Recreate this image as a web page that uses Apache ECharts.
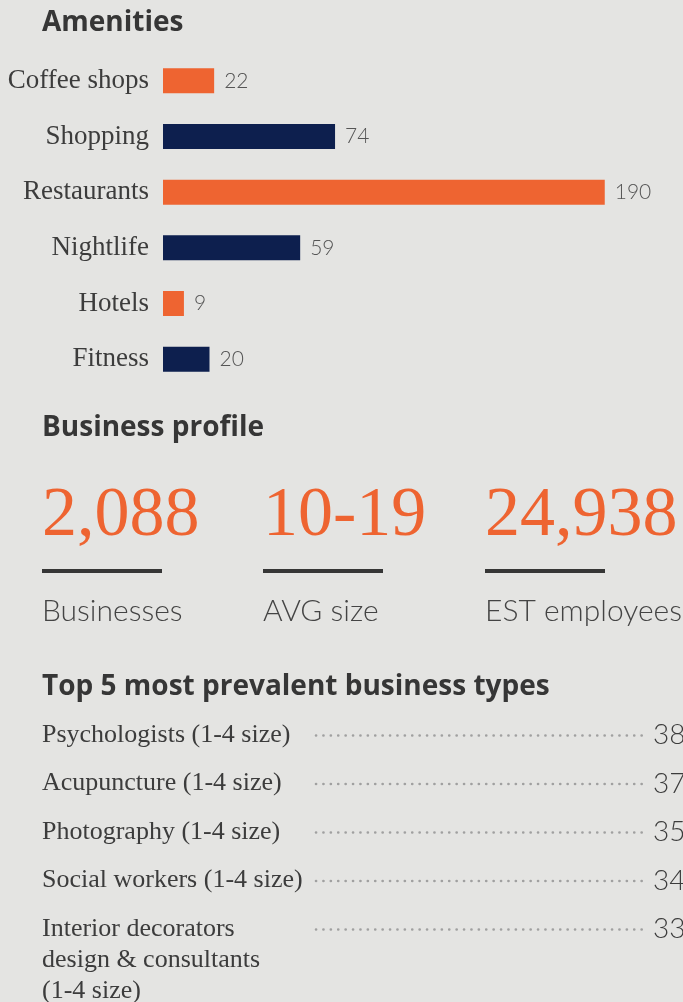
<!DOCTYPE html>
<html>
<head>
<meta charset="utf-8">
<script src="https://cdn.jsdelivr.net/npm/echarts@6/dist/echarts.min.js"></script>
<style>
html, body { margin: 0; padding: 0; background: #e4e4e2; }
#main { width: 683px; height: 1002px; }
</style>
</head>
<body>
<div id="main"></div>
<script>
"use strict";
var amenities = ['Coffee shops', 'Shopping', 'Restaurants', 'Nightlife', 'Hotels', 'Fitness'];
var amenityCounts = [22, 74, 190, 59, 9, 20];
var statValues = ['2,088', '10-19', '24,938'];
var statLabels = ['Businesses', 'AVG size', 'EST employees'];
var topTypes = [
    'Psychologists (1-4 size)',
    'Acupuncture (1-4 size)',
    'Photography (1-4 size)',
    'Social workers (1-4 size)',
    'Interior decorators\ndesign & consultants\n(1-4 size)'
];
var topCounts = [38, 37, 35, 34, 33];

var ORANGE = '#ee6431', NAVY = '#0d1f4e', INK = '#363636';
var SERIF = '"Liberation Serif", "DejaVu Serif", serif';
var SANS = 'Lato, "Noto Sans", sans-serif';
var HEAD = '"Open Sans", "Noto Sans", sans-serif';

var chartDom = document.getElementById('main');
var myChart = echarts.init(chartDom, null, { renderer: 'canvas' });

var graphics = [];
function heading(txt, y) {
    graphics.push({
        type: 'text', x: 42, y: y,
        style: { text: txt, font: 'bold 28px ' + HEAD, fill: INK, textVerticalAlign: 'middle' }
    });
}
heading('Amenities', 23);
heading('Business profile', 428);
heading('Top 5 most prevalent business types', 687);

// business profile figures
var statX = [42, 263, 485];
statValues.forEach(function (v, i) {
    graphics.push({
        type: 'text', x: statX[i], y: 517,
        style: { text: v, font: '70px ' + SERIF, fill: ORANGE, textVerticalAlign: 'middle' }
    });
    graphics.push({
        type: 'rect', shape: { x: statX[i], y: 569, width: 120, height: 4 },
        style: { fill: INK }
    });
    graphics.push({
        type: 'text', x: statX[i], y: 611,
        style: { text: statLabels[i], font: '300 30px ' + SANS, fill: '#444', textVerticalAlign: 'middle' }
    });
});

// top 5 list
topTypes.forEach(function (t, i) {
    var y = 735 + i * 48.5;
    graphics.push({
        type: 'text', x: 42, y: y - 15.5,
        style: { text: t, font: '26px ' + SERIF, fill: '#3c3c3c', lineHeight: 31, textVerticalAlign: 'top' }
    });
    graphics.push({
        type: 'line', shape: { x1: 316, y1: y + 0.5, x2: 642, y2: y + 0.5 },
        style: { stroke: '#a0a0a0', lineWidth: 2.6, lineCap: 'round', lineDash: [0.1, 7.3] }
    });
    graphics.push({
        type: 'text', x: 653, y: y,
        style: { text: String(topCounts[i]), font: '300 28px ' + SANS, fill: '#3c3c3c', textVerticalAlign: 'middle' }
    });
});

var option = {
    backgroundColor: '#e4e4e2',
    animation: false,
    grid: { left: 163, top: 53, width: 465, height: 334 },
    xAxis: {
        type: 'value', min: 0, max: 200, show: false
    },
    yAxis: {
        type: 'category', data: amenities, inverse: true,
        axisLine: { show: false }, axisTick: { show: false },
        axisLabel: { margin: 14, fontFamily: SERIF, fontSize: 27, color: '#3c3c3c' }
    },
    series: [{
        type: 'bar', data: amenityCounts, barWidth: 25,
        itemStyle: {
            color: function (p) { return p.dataIndex % 2 === 0 ? ORANGE : NAVY; }
        },
        label: {
            show: true, position: 'right', distance: 10,
            fontFamily: SANS, fontWeight: 300, fontSize: 21, color: '#555'
        }
    }],
    graphic: graphics
};
myChart.setOption(option);
</script>
</body>
</html>
